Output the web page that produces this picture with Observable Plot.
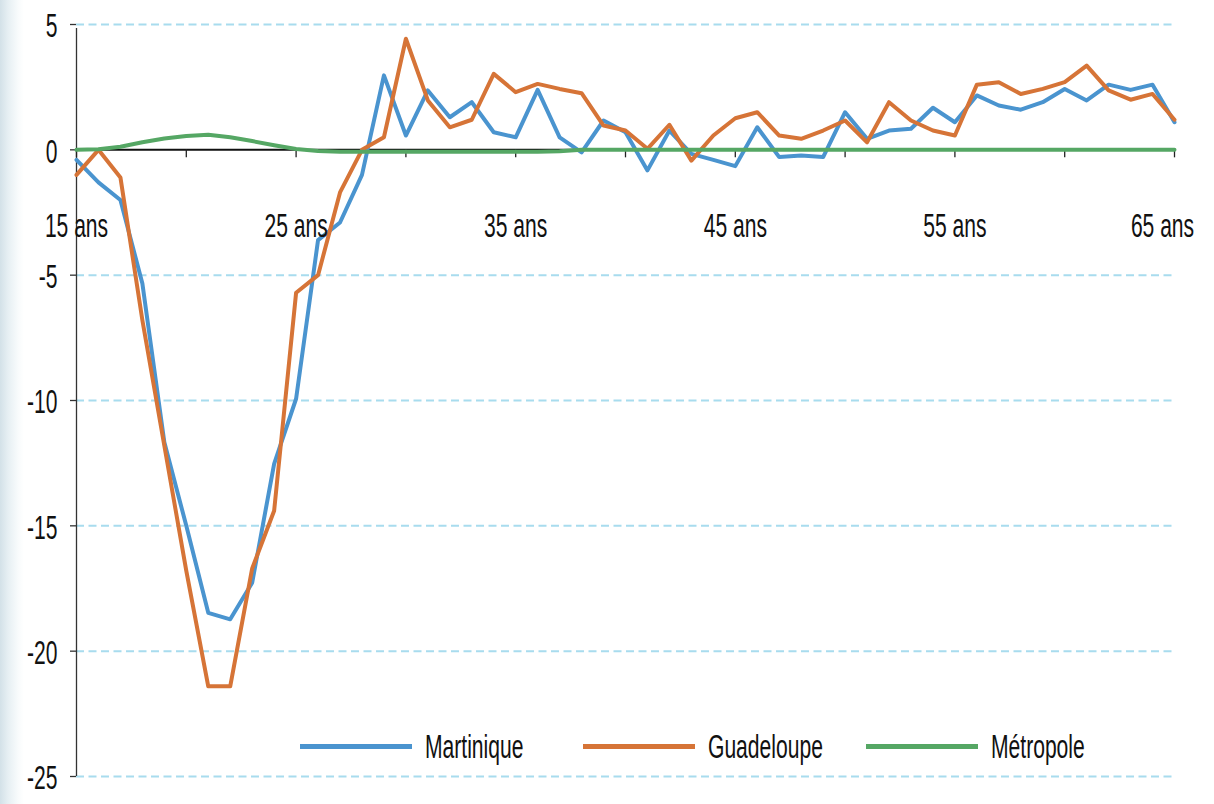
<!DOCTYPE html>
<html>
<head>
<meta charset="utf-8">
<script src="https://cdn.jsdelivr.net/npm/d3@7"></script>
<script src="https://cdn.jsdelivr.net/npm/@observablehq/plot@0.6"></script>
<style>
html, body { margin: 0; padding: 0; }
body {
  width: 1214px; height: 804px; overflow: hidden;
  background: linear-gradient(to right, #d3e1e8 0px, #e6eff3 8px, #f8fbfc 18px, #ffffff 24px);
  font-family: "Liberation Sans", Arial, sans-serif;
}
#wrap { position: relative; width: 1214px; height: 804px; }
#legend { position: absolute; left: 300px; top: 728px; height: 36px; display: flex; align-items: center; }
.item { display: flex; align-items: center; width: 283px; }
.sw { width: 112px; height: 5px; margin-right: 13px; flex: none; }
.lab { font-size: 34px; line-height: 36px; transform: scaleX(0.62); transform-origin: left center; white-space: nowrap; color: #111; }
</style>
</head>
<body>
<div id="wrap"></div>
<script>
// ---- data ----
const ages = [15,16,17,18,19,20,21,22,23,24,25,26,27,28,29,30,31,32,33,34,35,36,37,38,39,40,
              41,42,43,44,45,46,47,48,49,50,51,52,53,54,55,56,57,58,59,60,61,62,63,64,65];
const martinique = [-0.4,-1.3,-2.0,-5.33,-11.67,-15.0,-18.47,-18.73,-17.27,-12.53,-9.93,-3.6,-2.9,-1.0,
                    2.97,0.57,2.37,1.3,1.9,0.7,0.5,2.39,0.5,-0.1,1.17,0.7,-0.82,0.77,-0.16,-0.4,-0.65,
                    0.9,-0.29,-0.23,-0.29,1.5,0.44,0.77,0.84,1.68,1.1,2.17,1.77,1.6,1.9,2.43,1.97,2.6,2.39,2.6,1.1];
const guadeloupe = [-1.0,0.0,-1.1,-6.8,-11.8,-16.8,-21.4,-21.4,-16.7,-14.4,-5.7,-5.0,-1.7,0.0,
                    0.5,4.43,1.97,0.9,1.2,3.03,2.3,2.63,2.43,2.26,0.97,0.77,0.04,1.0,-0.43,0.57,1.26,
                    1.5,0.57,0.44,0.77,1.17,0.3,1.9,1.17,0.77,0.57,2.6,2.7,2.23,2.43,2.7,3.36,2.37,2.0,2.23,1.2];
const metropole = [0,0.02,0.12,0.3,0.45,0.55,0.6,0.5,0.35,0.18,0.03,-0.05,-0.08,-0.08,
                   -0.08,-0.08,-0.08,-0.08,-0.08,-0.08,-0.08,-0.08,-0.06,0,0,0,0,0,0,0,0,
                   0,0,0,0,0,0,0,0,0,0,0,0,0,0,0,0,0,0,0,0];
const seriesNames = ["Martinique", "Guadeloupe", "Métropole"];
const seriesColors = ["#4a94cf", "#d67437", "#55a764"];
const xTickValues = [15,20,25,30,35,40,45,50,55,60,65];
const xLabelValues = [15,25,35,45,55];
const xLastLabel = [65];
const yTickValues = [5,0,-5,-10,-15,-20,-25];
const gridValues = [5,-5,-10,-15,-20,-25];

// ---- table ----
const seriesValues = [martinique, guadeloupe, metropole];
const rows = [];
seriesNames.forEach((name, s) => {
  ages.forEach((a, i) => rows.push({serie: name, age: a, value: seriesValues[s][i]}));
});

const fontSize = 34;
const lab = d => `${d} ans`;

const chart = Plot.plot({
  width: 1214,
  height: 804,
  marginLeft: 76,
  marginRight: 40,
  marginTop: 24,
  marginBottom: 28,
  style: {background: "transparent", fontFamily: "'Liberation Sans', Arial, sans-serif", fontSize: fontSize + "px", color: "#111"},
  x: {domain: [15, 65], axis: null},
  y: {domain: [-25, 5], axis: null},
  color: {domain: seriesNames, range: seriesColors},
  marks: [
    Plot.ruleY(gridValues, {y: d => d, stroke: "#a8dcee", strokeWidth: 2, strokeDasharray: "8,4.5"}),
    Plot.ruleY([0], {y: d => d, stroke: "#111", strokeWidth: 2}),
    Plot.ruleX([15], {x: d => d, y1: -25, y2: 5, insetBottom: -4, stroke: "#333", strokeWidth: 1.3}),
    Plot.ruleY(yTickValues, {y: d => d, x1: 15, x2: 15, insetLeft: -6, stroke: "#333", strokeWidth: 1.3}),
    Plot.ruleX(xTickValues, {x: d => d, y1: 0, y2: 0, insetBottom: -8, stroke: "#222", strokeWidth: 1.3}),
    ...seriesNames.map(name =>
      Plot.line(rows.filter(r => r.serie === name), {x: "age", y: "value", stroke: "serie", strokeWidth: 4, strokeLinejoin: "round"})
    ),
    Plot.text(xLabelValues, {x: d => d, text: lab, frameAnchor: "top", lineAnchor: "middle", dy: 202, fill: "#111"}),
    Plot.text(xLastLabel, {x: d => d, text: lab, frameAnchor: "top", lineAnchor: "middle", dy: 202, dx: -12, fill: "#111"}),
    Plot.text(yTickValues, {y: d => d, text: d => String(d), frameAnchor: "left", textAnchor: "end", lineAnchor: "middle", dx: -19, dy: 2, fill: "#111"})
  ]
});

// condensed lettering like the original
chart.querySelectorAll("text").forEach(t => {
  t.setAttribute("transform", (t.getAttribute("transform") || "") + " scale(0.62,1)");
});

const wrap = document.getElementById("wrap");
wrap.appendChild(chart);

const legend = document.createElement("div");
legend.id = "legend";
seriesNames.forEach((name, i) => {
  const item = document.createElement("div");
  item.className = "item";
  const sw = document.createElement("span");
  sw.className = "sw";
  sw.style.background = seriesColors[i];
  const l = document.createElement("span");
  l.className = "lab";
  l.textContent = name;
  item.appendChild(sw);
  item.appendChild(l);
  legend.appendChild(item);
});
wrap.appendChild(legend);
</script>
</body>
</html>
